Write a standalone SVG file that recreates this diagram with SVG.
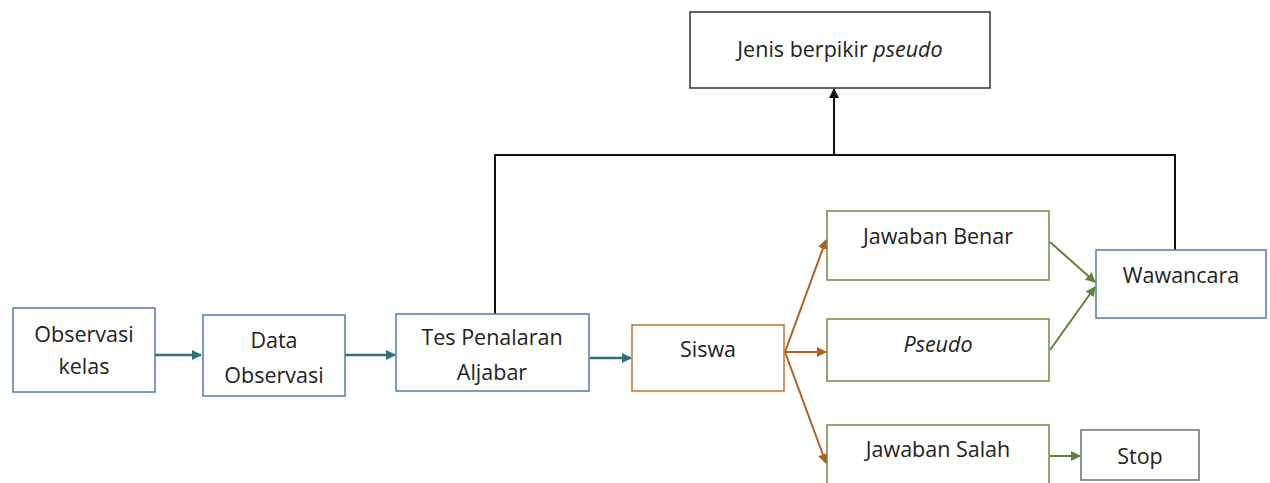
<svg xmlns="http://www.w3.org/2000/svg" width="1270" height="483" viewBox="0 0 1270 483">
<style>
text{font-family:"Open Sans","Liberation Sans",sans-serif;font-size:21.5px;fill:#222;text-anchor:middle}
.box{fill:#fff;stroke-width:1.5}
.blue{stroke:#4f79b3}
.orange{stroke:#c0722f}
.green{stroke:#6f8b3e}
.gray{stroke:#6e6e6e}
.black{stroke:#333}
.teal{stroke:#2f6f7c;stroke-width:2.5;fill:none}
.or{stroke:#b0601e;stroke-width:2;fill:none}
.gr{stroke:#61803a;stroke-width:2;fill:none}
.bk{stroke:#111;stroke-width:2;fill:none}
</style>
<defs>
<marker id="mTeal" markerWidth="10" markerHeight="10" refX="9" refY="5" orient="auto" markerUnits="userSpaceOnUse"><path d="M0,0 L10,5 L0,10 z" fill="#2f6f7c"/></marker>
<marker id="mOr" markerWidth="10" markerHeight="10" refX="9" refY="5" orient="auto" markerUnits="userSpaceOnUse"><path d="M0,0 L10,5 L0,10 z" fill="#b0601e"/></marker>
<marker id="mGr" markerWidth="10" markerHeight="10" refX="9" refY="5" orient="auto" markerUnits="userSpaceOnUse"><path d="M0,0 L10,5 L0,10 z" fill="#61803a"/></marker>
<marker id="mBk" markerWidth="10" markerHeight="12" refX="9" refY="5" orient="auto" markerUnits="userSpaceOnUse"><path d="M0,0 L10,5 L0,10 z" fill="#111"/></marker>
</defs>
<rect width="1270" height="483" fill="#fff"/>
<g id="connectors">
<line class="teal" x1="155" y1="355" x2="201" y2="355" marker-end="url(#mTeal)"/>
<line class="teal" x1="345" y1="355" x2="395" y2="355" marker-end="url(#mTeal)"/>
<line class="teal" x1="590" y1="358" x2="631" y2="358" marker-end="url(#mTeal)"/>
<line class="or" x1="785" y1="352" x2="826" y2="240" marker-end="url(#mOr)"/>
<line class="or" x1="785" y1="352" x2="826" y2="352" marker-end="url(#mOr)"/>
<line class="or" x1="785" y1="352" x2="826" y2="463" marker-end="url(#mOr)"/>
<line class="gr" x1="1050" y1="242" x2="1095" y2="282" marker-end="url(#mGr)"/>
<line class="gr" x1="1050" y1="350" x2="1095" y2="287" marker-end="url(#mGr)"/>
<line class="gr" x1="1050" y1="456" x2="1080" y2="456" marker-end="url(#mGr)"/>
<polyline class="bk" points="495,314 495,155 1175,155 1175,250" stroke-width="1.8"/>
<line class="bk" x1="834" y1="155" x2="834" y2="89" marker-end="url(#mBk)"/>
</g>
<g id="observasi-kelas"><rect class="box blue" x="13" y="308" width="142" height="84"/><text x="84" y="342">Observasi</text><text x="84" y="374">kelas</text></g>
<g id="data-observasi"><rect class="box blue" x="203" y="315" width="142" height="81"/><text x="274" y="348">Data</text><text x="274" y="383">Observasi</text></g>
<g id="tes-penalaran"><rect class="box blue" x="396" y="314" width="193" height="77"/><text x="492" y="345">Tes Penalaran</text><text x="492" y="380">Aljabar</text></g>
<g id="siswa"><rect class="box orange" x="632" y="325" width="152" height="66"/><text x="708" y="357">Siswa</text></g>
<g id="jawaban-benar"><rect class="box green" x="827" y="211" width="222" height="69"/><text x="938" y="244">Jawaban Benar</text></g>
<g id="pseudo"><rect class="box green" x="827" y="319" width="222" height="62"/><text x="938" y="352" font-style="italic">Pseudo</text></g>
<g id="jawaban-salah"><rect class="box green" x="827" y="425" width="222" height="70"/><text x="938" y="457">Jawaban Salah</text></g>
<g id="wawancara"><rect class="box blue" x="1096" y="250" width="170" height="68"/><text x="1181" y="283">Wawancara</text></g>
<g id="stop"><rect class="box gray" x="1081" y="430" width="118" height="50"/><text x="1140" y="464">Stop</text></g>
<g id="jenis-berpikir"><rect class="box black" x="690" y="12" width="300" height="76"/><text x="840" y="57" font-size="22.5">Jenis berpikir <tspan font-style="italic">pseudo</tspan></text></g>
</svg>
